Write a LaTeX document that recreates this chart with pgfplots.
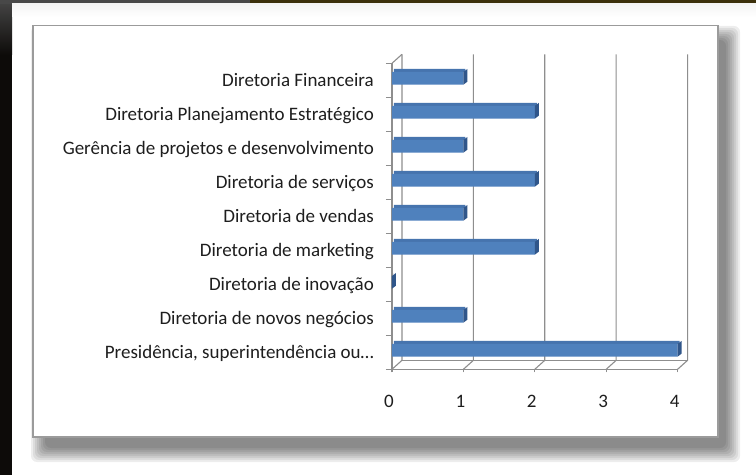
\documentclass[border=0pt]{standalone}
\usepackage{pgfplots}
\usepackage{pgfplotstable}
\pgfplotsset{compat=1.18}
\usepackage{fontspec}
\setmainfont{Carlito}
\definecolor{barfront}{HTML}{4F81BD}
\definecolor{bartop}{HTML}{4674AE}
\definecolor{barend}{HTML}{30568A}
\definecolor{gridc}{HTML}{8E8E8E}
\definecolor{txt}{HTML}{1E1E1E}
\definecolor{boxc}{HTML}{9B9B9B}

\pgfdeclareplotmark{endface}{%
  \pgfpathmoveto{\pgfqpoint{0pt}{-4.35pt}}%
  \pgfpathlineto{\pgfqpoint{0pt}{8.35pt}}%
  \pgfpathlineto{\pgfqpoint{4pt}{11.35pt}}%
  \pgfpathlineto{\pgfqpoint{4pt}{-1.35pt}}%
  \pgfpathclose
  \pgfusepathqfill
}

\pgfplotstableread{
y v
0 4
1 1
2 0
3 2
4 1
5 2
6 1
7 2
8 1
}\datatable

\begin{document}
\begin{tikzpicture}
\useasboundingbox (0pt,0pt) rectangle (756pt,475pt);
% background
\fill[white] (0pt,0pt) rectangle (756pt,475pt);
\fill[fill={rgb,255:red,13;green,11;blue,9}] (0pt,0pt) rectangle (12pt,475pt);
\shade[top color={rgb,255:red,70;green,70;blue,70}, bottom color={rgb,255:red,13;green,11;blue,9}] (0pt,420pt) rectangle (12pt,475pt);
\fill[fill={rgb,255:red,72;green,72;blue,72}] (0pt,471pt) rectangle (250pt,475pt);
\fill[fill={rgb,255:red,59;green,47;blue,10}] (250pt,471pt) rectangle (756pt,475pt);
\shade[top color={rgb,255:red,244;green,244;blue,244}, bottom color=white] (12pt,458pt) rectangle (756pt,471pt);
% shadow
\foreach \r in {14,12,10,8,6,4,2,0} {
  \fill[black, opacity=0.07, rounded corners=6pt] ({(45-\r)*1pt},{(27-\r)*1pt}) rectangle ({(726+\r)*1pt},{(435+\r)*1pt});
}
% chart box
\filldraw[fill=white, draw=boxc, line width=1.5pt] (33pt,38pt) rectangle (718pt,449.5pt);

\begin{axis}[
  at={(392pt,105.7pt)}, anchor=south west,
  scale only axis, width=285.6pt, height=306pt,
  xmin=0, xmax=4, ymin=-0.5, ymax=8.5,
  axis lines=left,
  axis line style={gridc, line width=1.1pt, -},
  clip=false,
  tick align=outside,
  major tick length=3pt,
  minor tick length=6pt,
  xtick={0,1,2,3,4},
  ytick={0,...,8},
  minor ytick={-0.5,0.5,...,8.5},
  every major y tick/.style={draw=none},
  every minor y tick/.style={gridc, line width=1.1pt},
  every major x tick/.style={gridc, line width=1.1pt},
  /pgf/number format/assume math mode=true,
  yticklabels={{Presidência, superintendência ou\ldots},Diretoria de novos negócios,Diretoria de inovação,Diretoria de marketing,Diretoria de vendas,Diretoria de serviços\ ,Gerência de projetos e desenvolvimento,Diretoria Planejamento Estratégico,Diretoria Financeira},
  ticklabel style={font=\fontsize{19}{22}\selectfont, text=txt},
  yticklabel style={inner sep=0pt, anchor=east, xshift=-15pt, text height=13pt, text depth=1pt},
  xticklabel style={inner sep=0pt, anchor=north, xshift=-3pt, yshift=-23pt},
]
% 3D walls
\pgfplotsinvokeforeach{0,...,4}{
  \draw[gridc, line width=1.1pt] (axis cs:#1,-0.5) -- ([shift={(10pt,9pt)}]axis cs:#1,-0.5) -- ([shift={(10pt,9pt)}]axis cs:#1,8.5);
}
\draw[gridc, line width=1.1pt] ([shift={(10pt,9pt)}]axis cs:0,-0.5) -- ([shift={(10pt,9pt)}]axis cs:4,-0.5);
\draw[gridc, line width=1.1pt] (axis cs:0,8.5) -- ([shift={(10pt,9pt)}]axis cs:0,8.5);
% bar top faces
\addplot[xbar, bar width=3pt, bar shift=9.85pt, xshift=2pt, fill=bartop, draw=none] table[x=v, y=y] {\datatable};
% bar end faces
\addplot[only marks, mark=endface, color=barend] table[x=v, y=y] {\datatable};
% bar front faces
\addplot[xbar, bar width=12.7pt, bar shift=2pt, fill=barfront, draw=none] table[x=v, y=y] {\datatable};
\end{axis}
\end{tikzpicture}
\end{document}
